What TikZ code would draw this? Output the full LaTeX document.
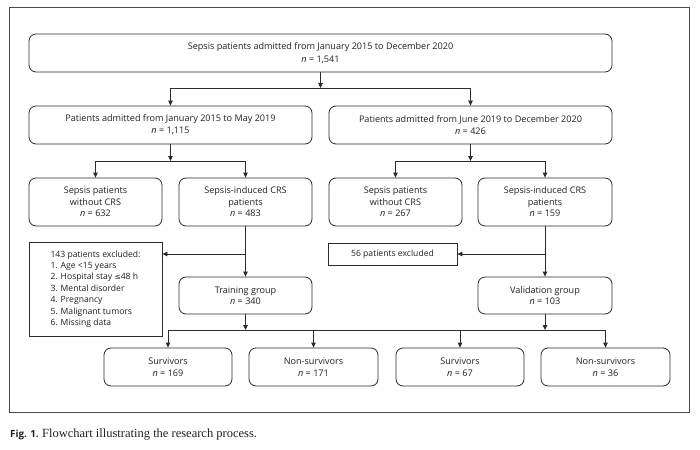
\documentclass[tikz,border=0pt]{standalone}
\usepackage{fontspec}
\setmainfont{Open Sans}
\newfontfamily\capserif{Liberation Serif}
\newfontfamily\capsans{Open Sans}
\newfontfamily\symf{DejaVu Sans}
\usetikzlibrary{arrows.meta}
\definecolor{textc}{HTML}{231F20}
\definecolor{linec}{HTML}{2B2B2B}
\definecolor{framec}{HTML}{4A4A4A}
\begin{document}
\begin{tikzpicture}[x=1pt,y=-1pt,
  box/.style={draw=linec, rounded corners=7pt, line width=0.8pt, align=center,
    font=\fontsize{9.1}{11.5}\selectfont, text=textc, inner sep=0pt},
  exbox/.style={draw=linec, line width=0.8pt, align=left,
    font=\fontsize{8.6}{11.4}\selectfont, text=textc, inner sep=0pt},
  arr/.style={-{Triangle[length=5pt,width=4.5pt]}, line width=0.8pt, draw=linec},
  ln/.style={line width=0.8pt, draw=linec}]
\useasboundingbox (0,0) rectangle (700,449);
\fill[white] (0,0) rectangle (700,449);
\draw[framec, line width=1pt] (9,8) rectangle (689,412);

\node[box, minimum width=583pt, minimum height=38pt] (top) at (320.5,53)
  {Sepsis patients admitted from January 2015 to December 2020\\[1.5pt]\textit{n} = 1,541};
\node[box, minimum width=283pt, minimum height=38pt] (p1) at (170.5,125)
  {Patients admitted from January 2015 to May 2019\\[0.5pt]\textit{n} = 1,115};
\node[box, minimum width=283pt, minimum height=38pt] (p2) at (470.5,125)
  {Patients admitted from June 2019 to December 2020\\[0.5pt]\textit{n} = 426};

\node[box, minimum width=133pt, minimum height=48pt] (s1) at (95.5,202)
  {Sepsis patients\\without CRS\\\textit{n} = 632};
\node[box, minimum width=133pt, minimum height=48pt] (c1) at (245.5,202)
  {Sepsis-induced CRS\\patients\\\textit{n} = 483};
\node[box, minimum width=133pt, minimum height=48pt] (s2) at (395.5,202)
  {Sepsis patients\\without CRS\\\textit{n} = 267};
\node[box, minimum width=134pt, minimum height=48pt] (c2) at (545,202)
  {Sepsis-induced CRS\\patients\\\textit{n} = 159};

\node[exbox, minimum width=133pt, minimum height=94pt] (ex1) at (95.5,289)
  {143 patients excluded:\\1. Age <15 years\\2. Hospital stay {\symf\fontsize{7.5}{11.4}\selectfont ≤}48 h\\3. Mental disorder\\4. Pregnancy\\5. Malignant tumors\\6. Missing data};
\node[exbox, align=center, minimum width=129pt, minimum height=22pt] (ex2) at (392.5,254)
  {56 patients excluded};

\node[box, minimum width=133pt, minimum height=37pt] (tr) at (245.5,295.5)
  {Training group\\\textit{n} = 340};
\node[box, minimum width=134pt, minimum height=37pt] (va) at (545,295.5)
  {Validation group\\\textit{n} = 103};

\node[box, minimum width=128pt, minimum height=38pt] (b1) at (168,367)
  {Survivors\\\textit{n} = 169};
\node[box, minimum width=129pt, minimum height=38pt] (b2) at (313.5,367)
  {Non-survivors\\\textit{n} = 171};
\node[box, minimum width=128pt, minimum height=38pt] (b3) at (460,367)
  {Survivors\\\textit{n} = 67};
\node[box, minimum width=129pt, minimum height=38pt] (b4) at (605.5,367)
  {Non-survivors\\\textit{n} = 36};

% junctions
\coordinate (j0) at (320.5,88);
\coordinate (j1) at (170.5,161);
\coordinate (j2) at (470.5,161);
\coordinate (k1) at (245.5,254);
\coordinate (k2) at (545,254);
\coordinate (m1) at (245.5,330);
\coordinate (m2) at (545,330);

\draw[arr] (top.south) -- (j0);
\draw[arr] (j0) -| (p1.north);
\draw[arr] (j0) -| (p2.north);

\draw[arr] (p1.south) -- (j1);
\draw[arr] (j1) -| (s1.north);
\draw[arr] (j1) -| (c1.north);
\draw[arr] (p2.south) -- (j2);
\draw[arr] (j2) -| (s2.north);
\draw[arr] (j2) -| (c2.north);

\draw[arr] (c1.south) -- (tr.north);
\draw[arr] (k1) -- (k1 -| ex1.east);
\draw[arr] (c2.south) -- (va.north);
\draw[arr] (k2) -- (ex2.east);

\draw[arr] (tr.south) -- (m1);
\draw[arr] (va.south) -- (m2);
\draw[ln] (m1 -| b1.north) -- (m2 -| b4.north);
\draw[arr] (m1 -| b1.north) -- (b1.north);
\draw[arr] (m1 -| b2.north) -- (b2.north);
\draw[arr] (m1 -| b3.north) -- (b3.north);
\draw[arr] (m1 -| b4.north) -- (b4.north);

\node[anchor=base west, inner sep=0pt, text=textc] (cap) at (10,437)
  {{\capsans\bfseries\fontsize{9.8}{12}\selectfont Fig. 1.} {\capserif\fontsize{12.5}{14}\selectfont Flowchart illustrating the research process.}};
\end{tikzpicture}
\end{document}
